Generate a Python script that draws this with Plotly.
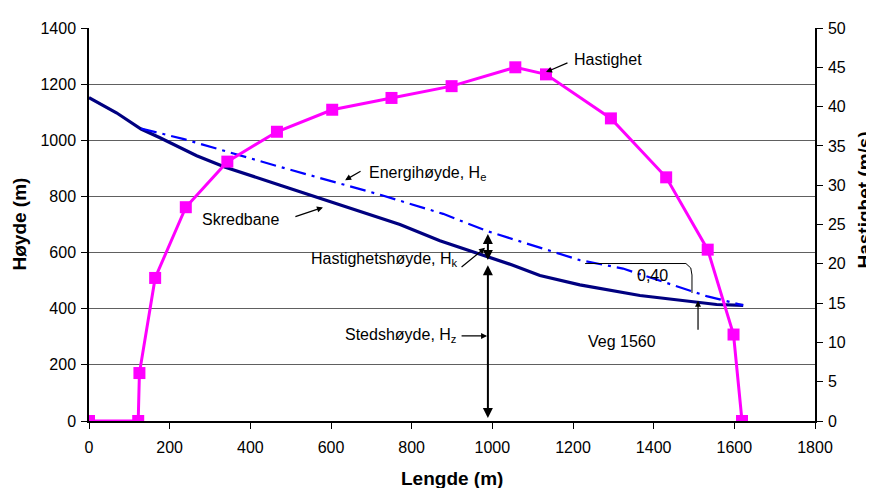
import plotly.graph_objects as go

# ---- data ----
terrain_x = [0, 68, 129, 176, 267, 338, 474, 585, 771, 870, 969, 1051, 1118, 1193, 1217, 1366, 1490, 1556, 1622]
terrain_y = [1152, 1098, 1040, 1009, 945, 904, 840, 788, 700, 642, 596, 555, 518, 494, 485, 447, 427, 415, 412]

energy_x = [129, 233, 474, 722, 878, 986, 1217, 1324, 1531, 1622]
energy_y = [1042, 1005, 905, 806, 738, 677, 573, 543, 445, 412]

speed_x = [0, 122, 125, 164, 240, 343, 466, 603, 750, 899, 1057, 1133, 1294, 1431, 1534, 1598, 1619]
speed_v = [0, 0, 6.1, 18.2, 27.2, 33.0, 36.8, 39.6, 41.1, 42.6, 45.0, 44.1, 38.5, 31.0, 21.8, 11.0, 0]

slope_x = [1230, 1480, 1492, 1495, 1495]
slope_y = [561, 561, 545, 520, 456]

FONT = "Liberation Sans, Arial, sans-serif"

fig = go.Figure()
fig.add_trace(go.Scatter(x=terrain_x, y=terrain_y, mode="lines",
                         line=dict(color="#000080", width=3.2), name="Skredbane"))
fig.add_trace(go.Scatter(x=energy_x, y=energy_y, mode="lines",
                         line=dict(color="#0000FF", width=2.2, dash="16px,6px,3px,6px"),
                         name="Energihøyde"))
fig.add_trace(go.Scatter(x=slope_x, y=slope_y, mode="lines",
                         line=dict(color="black", width=1), name="slope"))
fig.add_trace(go.Scatter(x=speed_x, y=speed_v, mode="lines+markers", yaxis="y2",
                         line=dict(color="#FF00FF", width=3),
                         marker=dict(symbol="square", size=12, color="#FF00FF"),
                         name="Hastighet"))

ann = []
def txt(x, y, s, xanchor="left"):
    ann.append(dict(x=x, y=y, xref="x", yref="y", text=s, showarrow=False,
                    xanchor=xanchor, yanchor="middle",
                    font=dict(family=FONT, size=16, color="black")))

def arrow(x, y, ax, ay, width=1.2, both=False, size=1.0):
    ann.append(dict(x=x, y=y, ax=ax, ay=ay, xref="x", yref="y", axref="x", ayref="y",
                    text="", showarrow=True, arrowhead=2, arrowsize=size,
                    arrowwidth=width, arrowcolor="black", standoff=0, startstandoff=0,
                    arrowside="end+start" if both else "end", startarrowhead=2,
                    startarrowsize=size))

txt(1197, 1288, "Hastighet")
arrow(1133, 1243, 1190, 1278)
txt(689, 883, "Energihøyde, H<sub>e</sub>")
arrow(635, 858, 677, 893)
txt(376, 719, "Skredbane", "center")
arrow(580, 761, 508, 726)
txt(920, 577, "Hastighetshøyde, H<sub>k</sub>", "right")
arrow(982, 617, 920, 544)
arrow(989, 666, 989, 568, width=2, both=True)
arrow(989, 555, 989, 5, width=2, both=True)
txt(918, 303, "Stedshøyde, H<sub>z</sub>", "right")
arrow(987, 303, 920, 303)
txt(1322, 282, "Veg 1560", "center")
arrow(1510, 428, 1510, 320)
txt(1398, 519, "0,40", "center")

# axis titles
ann.append(dict(x=0.5, y=0, xref="paper", yref="paper", yshift=-57, text="<b>Lengde (m)</b>",
                showarrow=False, xanchor="center", yanchor="middle",
                font=dict(family=FONT, size=19, color="black")))
ann.append(dict(x=0, y=0.5, xref="paper", yref="paper", xshift=-70, text="<b>Høyde (m)</b>",
                showarrow=False, textangle=-90, xanchor="center", yanchor="middle",
                font=dict(family=FONT, size=19, color="black")))
ann.append(dict(x=1, y=0.561, xref="paper", yref="paper", xshift=50, text="<b>Hastighet (m/s)</b>",
                showarrow=False, textangle=-90, xanchor="center", yanchor="middle",
                font=dict(family=FONT, size=19, color="black")))

tickfont = dict(family=FONT, size=16, color="black")
fig.update_layout(
    width=866, height=480,
    margin=dict(l=81, r=59, t=12, b=67),
    paper_bgcolor="white", plot_bgcolor="white",
    showlegend=False,
    annotations=ann,
    xaxis=dict(range=[0, 1800], dtick=200, tick0=0, showgrid=False, zeroline=False,
               showline=True, linecolor="black", linewidth=1.5,
               ticks="outside", ticklen=6, tickcolor="black", tickfont=tickfont,
               ticklabelstandoff=5),
    yaxis=dict(range=[0, 1400], dtick=200, tick0=0, showgrid=True, gridcolor="#606060",
               gridwidth=1, zeroline=False, showline=True, linecolor="black", linewidth=1.5,
               ticks="outside", ticklen=6, tickcolor="black", tickfont=tickfont,
               ticklabelstandoff=2),
    yaxis2=dict(range=[0, 50], dtick=5, tick0=0, overlaying="y", side="right",
                showgrid=False, zeroline=False, showline=True, linecolor="black", linewidth=1.5,
                ticks="outside", ticklen=6, tickcolor="black", tickfont=tickfont,
                ticklabelstandoff=2),
)

fig.write_html("out.html")
